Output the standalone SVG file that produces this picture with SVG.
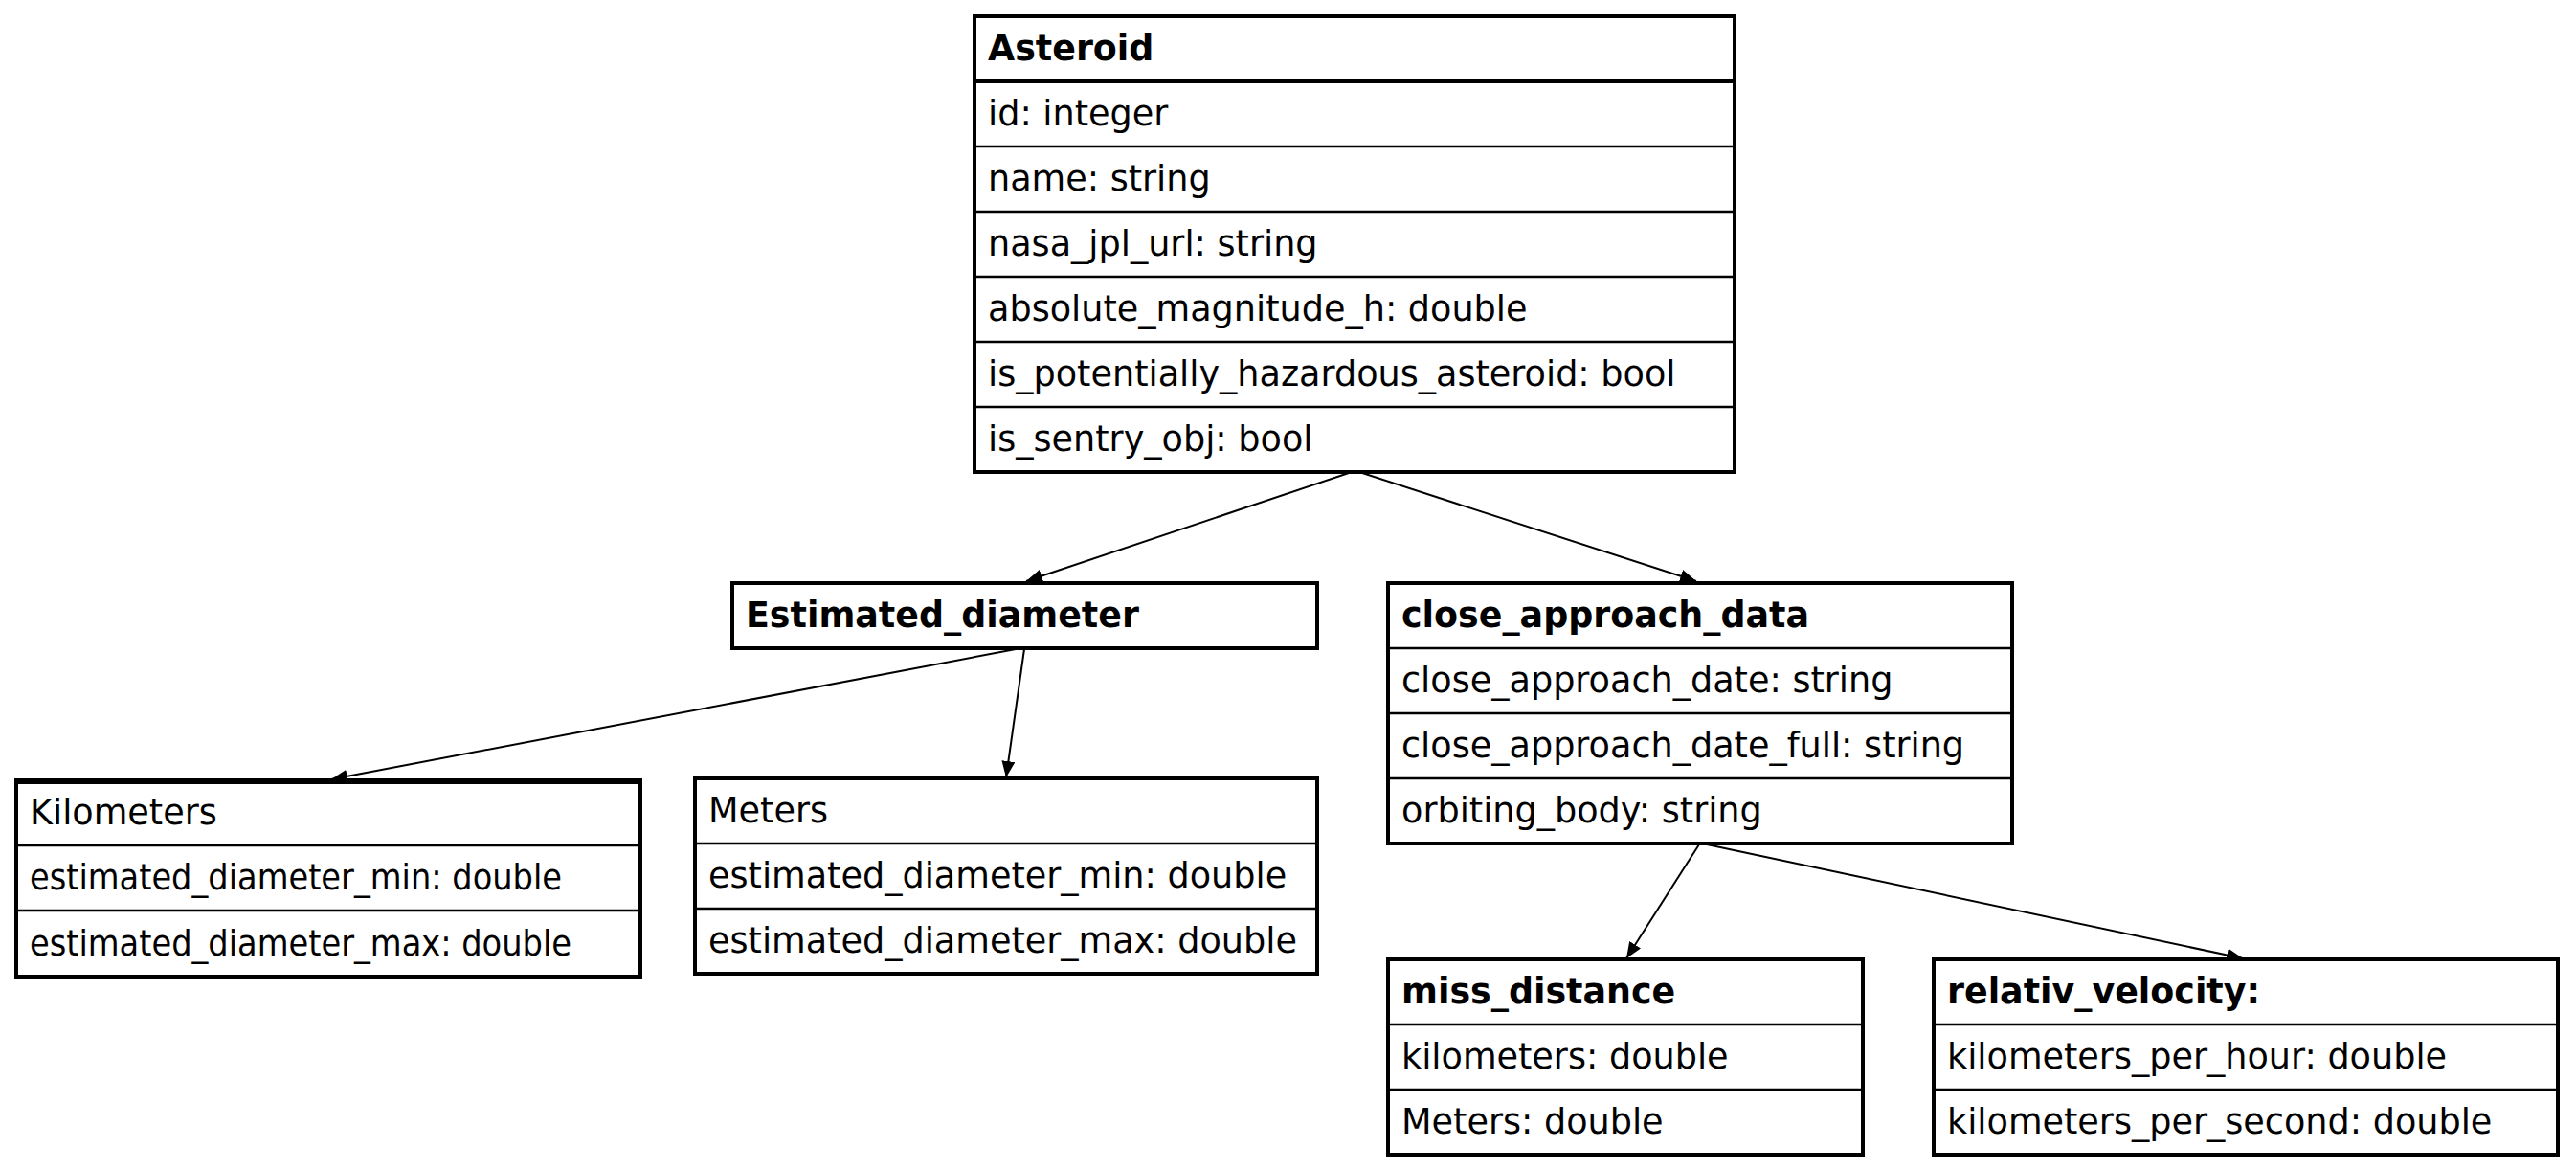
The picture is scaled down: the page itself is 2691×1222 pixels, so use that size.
<svg xmlns="http://www.w3.org/2000/svg" width="2691" height="1222" viewBox="0 0 2691 1222">
<style>
.box{fill:#fff;stroke:#000;stroke-width:4}
.sep{stroke:#000;stroke-width:2.5}
.hsep{stroke:#000;stroke-width:4}
text{font-family:"DejaVu Sans","Liberation Sans",sans-serif;font-size:36.6px;fill:#000}
.h{font-weight:bold;font-size:36.4px}
.edge{fill:none;stroke:#000;stroke-width:2}
</style>
<defs>
<marker id="arr" markerUnits="userSpaceOnUse" markerWidth="20" markerHeight="16" refX="17" refY="7" orient="auto">
<path d="M0,0 L17,7 L0,14 Z" fill="#000"/>
</marker>
</defs>
<rect width="2691" height="1222" fill="#fff"/>
<g id="connectors">
<line class="edge" x1="1412" y1="493" x2="1072" y2="607" marker-end="url(#arr)"/>
<line class="edge" x1="1420" y1="493" x2="1772" y2="607" marker-end="url(#arr)"/>
<line class="edge" x1="1061" y1="678" x2="346" y2="814" marker-end="url(#arr)"/>
<line class="edge" x1="1070" y1="678" x2="1051" y2="812" marker-end="url(#arr)"/>
<line class="edge" x1="1775" y1="882" x2="1699" y2="1001" marker-end="url(#arr)"/>
<line class="edge" x1="1783" y1="882" x2="2343" y2="1001" marker-end="url(#arr)"/>
</g>
<g id="asteroid">
<rect class="box" x="1018" y="17" width="794" height="476"/>
<line class="hsep" x1="1018" y1="85" x2="1812" y2="85"/>
<line class="sep" x1="1018" y1="153" x2="1812" y2="153"/>
<line class="sep" x1="1018" y1="221" x2="1812" y2="221"/>
<line class="sep" x1="1018" y1="289" x2="1812" y2="289"/>
<line class="sep" x1="1018" y1="357" x2="1812" y2="357"/>
<line class="sep" x1="1018" y1="425" x2="1812" y2="425"/>
<text class="h" x="1032" y="63">Asteroid</text>
<text x="1032" y="131">id: integer</text>
<text x="1032" y="199">name: string</text>
<text x="1032" y="267">nasa_jpl_url: string</text>
<text x="1032" y="335">absolute_magnitude_h: double</text>
<text x="1032" y="403">is_potentially_hazardous_asteroid: bool</text>
<text x="1032" y="471">is_sentry_obj: bool</text>
</g>
<g id="estimated_diameter">
<rect class="box" x="765" y="609" width="611" height="68"/>
<text class="h" x="779" y="655">Estimated_diameter</text>
</g>
<g id="close_approach_data">
<rect class="box" x="1450" y="609" width="652" height="272"/>
<line class="sep" x1="1450" y1="677" x2="2102" y2="677"/>
<line class="sep" x1="1450" y1="745" x2="2102" y2="745"/>
<line class="sep" x1="1450" y1="813" x2="2102" y2="813"/>
<text class="h" x="1464" y="655">close_approach_data</text>
<text x="1464" y="723">close_approach_date: string</text>
<text x="1464" y="791">close_approach_date_full: string</text>
<text x="1464" y="859">orbiting_body: string</text>
</g>
<g id="kilometers">
<rect class="box" x="17" y="815" width="652" height="205"/>
<line class="hsep" x1="17" y1="817" x2="669" y2="817"/>
<line class="sep" x1="17" y1="883" x2="669" y2="883"/>
<line class="sep" x1="17" y1="951" x2="669" y2="951"/>
<text x="31" y="861">Kilometers</text>
<text x="31" y="929" textLength="556" lengthAdjust="spacingAndGlyphs">estimated_diameter_min: double</text>
<text x="31" y="998" textLength="566" lengthAdjust="spacingAndGlyphs">estimated_diameter_max: double</text>
</g>
<g id="meters">
<rect class="box" x="726" y="813" width="650" height="204"/>
<line class="sep" x1="726" y1="881" x2="1376" y2="881"/>
<line class="sep" x1="726" y1="949" x2="1376" y2="949"/>
<text x="740" y="859">Meters</text>
<text x="740" y="927">estimated_diameter_min: double</text>
<text x="740" y="995">estimated_diameter_max: double</text>
</g>
<g id="miss_distance">
<rect class="box" x="1450" y="1002" width="496" height="204"/>
<line class="sep" x1="1450" y1="1070" x2="1946" y2="1070"/>
<line class="sep" x1="1450" y1="1138" x2="1946" y2="1138"/>
<text class="h" x="1464" y="1048">miss_distance</text>
<text x="1464" y="1116">kilometers: double</text>
<text x="1464" y="1184">Meters: double</text>
</g>
<g id="relativ_velocity">
<rect class="box" x="2020" y="1002" width="652" height="204"/>
<line class="sep" x1="2020" y1="1070" x2="2672" y2="1070"/>
<line class="sep" x1="2020" y1="1138" x2="2672" y2="1138"/>
<text class="h" x="2034" y="1048">relativ_velocity:</text>
<text x="2034" y="1116">kilometers_per_hour: double</text>
<text x="2034" y="1184">kilometers_per_second: double</text>
</g>
</svg>
